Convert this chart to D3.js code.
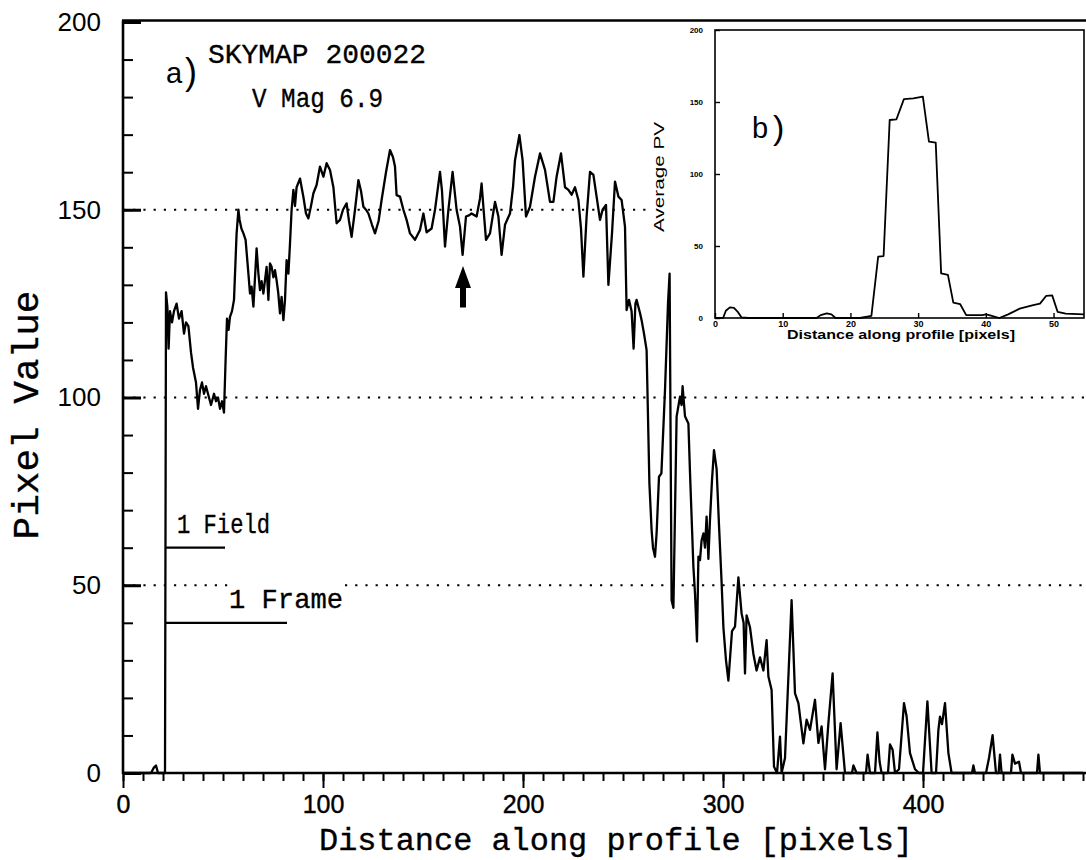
<!DOCTYPE html>
<html><head><meta charset="utf-8">
<script src="https://cdn.jsdelivr.net/npm/d3@7/dist/d3.min.js"></script>
<style>html,body{margin:0;padding:0;background:#fff;} svg{display:block;}</style>
</head><body>
<svg id="chart" width="1086" height="860"></svg>
<script>
// ---------- data ----------
const profileX = [0,14,15.5,16.5,17.5,20,21,21.5,22.2,22.8,23.5,24.5,25.5,26.8,28,29.3,30.5,31.5,32.7,34,35,36.5,37.5,38.5,39.5,40.5,41.5,43,44,45.5,46.5,47.5,48.5,49.5,50.5,51.3,52,52.8,53.5,54.5,55.5,56.8,57.7,58.3,59.2,60.2,61.3,62.7,63.5,64.3,65.2,66.8,67.7,68.5,69.3,70.2,71.8,72.7,73.5,74.3,75.2,76,76.8,77.6,78.5,79.3,80.2,81,81.8,82.7,83.5,84.3,85.2,86,86.8,88.5,90.2,91.5,92.7,94,95.2,96.8,98.5,100.2,101.8,103.5,105.2,106.8,108.5,110,111.8,113,114.3,116,117.7,119,120.2,121.5,122.7,124.5,126,127.8,129.3,131.5,133.5,135,136,136.8,138.5,140.2,141.8,143.5,146,148.5,150.2,151.8,154.3,156,158.5,159.5,161,162.7,164.8,166.8,168.5,169.8,171.5,173,174.3,176.8,178.5,179.3,180.3,181.5,183.5,186,187.7,189.3,191,193.5,195,196,198.2,199.8,201.5,203.5,206,208.5,211,213.5,215.2,216.8,219,221,222.7,224.3,226,227.7,229,230.2,231.8,233.5,235.2,236.8,238.5,239.8,241.5,242.7,244.5,246,247.7,249.3,251,251.8,253,254.3,255.3,256.2,256.8,258.5,259.3,260.5,261.8,263.2,264.3,265,266,266.8,268,269.2,271,272.5,273.3,274.3,275.2,276.8,278.5,279.3,279.8,281,282.7,283.5,285.2,286,287,287.7,288.5,289.3,290.2,291,291.8,292.7,293.5,294.5,295.5,296.8,298,299.2,300.2,301.5,302.7,304.5,306,307.7,309.3,310.3,311,311.8,313.5,315.2,316.8,318.5,320.2,321.8,322.7,324.3,325.5,327,328.5,329.3,331,334.3,336,337.7,340.2,341.8,343.5,346,347.7,349.3,351,352.7,354.8,356.8,358.8,361,364.5,365.2,366.8,371.5,372.3,373.5,376,377.2,378.3,379.3,382.5,383.5,384.8,386,388,390.5,391.8,393.5,396,398,400,402.2,404.3,406.5,407.7,408.5,409.5,411,412.7,414.3,424.5,425.2,426,431.5,433,434.8,436.5,437.8,438.5,439.3,444,444.7,446,448,449,457,457.7,458.5,480];
const profileV = [0,0,1.5,2,0,0,0,128,124,113,123,120,123,125,121,123,117,120,119,112,108,104,97,102,104,101,103,100,98,101,99,100,97,99,96,110,121,118,121.5,123,126,143.7,150,147.3,145,143.7,142,133,127.7,129.5,124.2,139.7,133,128.6,131,127.7,134.8,126,135.7,134.8,132,133.9,131.2,128,122.4,126.8,120.6,126,136.6,133,141,150,155.3,151,156,158.3,153.4,149,147.7,151,154.4,156.6,161.5,158.8,162.4,160.6,156,146.4,147.3,150,151.7,147,142.8,150,157.9,155,150.8,150,149,146,143.7,147,152.6,160,165.9,164,161.5,153.9,153.5,150,147.3,143.7,142,144.6,149,144,145,150,160.1,155,140.2,150,160.1,150,145.5,138,148.2,148.5,149,148.2,153,157,150,142,143.7,152.1,148.2,138,146,149,156,163.2,169.9,163.2,148.2,150.8,158.8,165,160.6,152.1,152.1,158.8,165,156,155.3,154,156,152.6,145,132.2,148.2,160.1,159.3,153.5,147.3,150,151.3,130,143.7,157.5,153.5,152.6,145.5,123.3,126,123,113,125,126,122.5,120.6,117,112.6,77.1,64.7,60,57.6,63.8,78.9,79.8,102,125,133,46,44,94.9,100.2,98,103,95,93.1,80,54.9,47.8,35,57.6,56.7,62,63.8,60,68.3,57,67.5,78,86,81,66,52,38.8,30,24.6,37.8,39,52.1,42.5,40,26.5,42,38.8,31.7,27.3,30.8,27.3,35.4,25.7,22.1,1.7,0,9.7,0,4,46,21.2,18.6,7.9,14.2,11.5,19.5,8,12.4,1,13.3,26.5,1,13.3,0,0,2,0,0,4.9,0,0,10.8,3,0,0,7.6,6.2,0,1,18.6,15.1,5.3,1,0,0,19.1,0,0,11.5,15,13,18.6,5.3,0,0,2,0,0,4,10.1,0,0,4.9,0,0,4.9,2.5,3,0,0,4.9,0,0];

const insetX = [0,1.2,1.6,2.2,2.8,3.4,3.9,5,15,15.6,16.5,17.2,17.8,21.4,22.5,23.1,24.1,24.9,25.8,26.8,27.9,29.3,30.7,31.6,32.6,33.4,34.4,35.2,36.2,37.1,39.5,40,40.5,42,43.3,45,47,48,48.9,49.8,50.6,51.8,54.5];
const insetV = [0,0,5,7.4,7,4,0.5,0,0,2,3.2,2.5,0,0,1,1.5,42.6,43,137.5,138,152,152.5,153.7,122.5,121.8,31,30,10.7,9.7,2,2,2.5,2,0,2.5,6.5,9,10,15.3,15.7,4.3,3,2.5];

const xTickLabels = [0,100,200,300,400];
const yTickLabels = [0,50,100,150,200];
const insetXTicks = [0,10,20,30,40,50];
const insetYTicks = [0,50,100,150,200];
const refLines = [150,100,50];
const markerLabels = ["1 Field","1 Frame"];
const markerValues = [60,40];
const markerFrom = [21,21];
const markerTo = [51,82];
const arrowAt = 170, arrowTip = 135, arrowBase = 124;

// ---------- drawing ----------
const svg = d3.select("#chart");
const SANS = "'Liberation Sans', Arial, sans-serif";
const MONO = "'Liberation Mono', 'Courier New', monospace";

const x = d3.scaleLinear().domain([0,480]).range([123,1083]);
const y = d3.scaleLinear().domain([0,200]).range([773,22]);

function txt(g, s, px, py, fs, fam, len, anchor) {
  const t = g.append("text").attr("x",px).attr("y",py).attr("font-size",fs)
    .attr("font-family",fam).attr("fill","#000").text(s);
  if (anchor) t.attr("text-anchor",anchor);
  if (len) t.attr("textLength",len).attr("lengthAdjust","spacingAndGlyphs");
  return t;
}

// reference dotted lines
const dots = svg.append("g").attr("stroke","#000").attr("stroke-width",2.2)
  .attr("stroke-dasharray","2.2,8").attr("fill","none");
dots.append("line").attr("x1",x(0)).attr("x2",648).attr("y1",y(refLines[0])).attr("y2",y(refLines[0]));
dots.append("line").attr("x1",x(0)).attr("x2",1086).attr("y1",y(refLines[1])).attr("y2",y(refLines[1]));
dots.append("line").attr("x1",x(0)).attr("x2",228).attr("y1",y(refLines[2])).attr("y2",y(refLines[2]));
dots.append("line").attr("x1",345).attr("x2",1086).attr("y1",y(refLines[2])).attr("y2",y(refLines[2]));

// axes ticks
function styleAxis(g){ g.select(".domain").remove(); g.selectAll("line").attr("stroke","#000").attr("stroke-width",2); }
svg.append("g").attr("transform",`translate(0,${y(0)})`)
  .call(d3.axisBottom(x).tickValues(d3.range(0,481,10)).tickSize(8).tickFormat(""))
  .call(styleAxis);
const xMaj = svg.append("g").attr("transform",`translate(0,${y(0)})`)
  .call(d3.axisBottom(x).tickValues(xTickLabels).tickSize(15).tickPadding(7).tickFormat(d3.format("d")))
  .call(styleAxis);
xMaj.selectAll("text").attr("font-size",25).attr("font-family",SANS).attr("fill","#000")
  .attr("stroke","#000").attr("stroke-width",0.4);

svg.append("g").attr("transform",`translate(${x(0)},0)`)
  .call(d3.axisRight(y).tickValues(d3.range(0,201,10)).tickSize(10).tickFormat(""))
  .call(styleAxis);
svg.append("g").attr("transform",`translate(${x(0)},0)`)
  .call(d3.axisRight(y).tickValues(yTickLabels).tickSize(18).tickFormat(""))
  .call(g=>{styleAxis(g); g.selectAll("line").attr("stroke-width",3);});
const yLab = svg.append("g").attr("transform",`translate(${x(0)},0)`)
  .call(d3.axisLeft(y).tickValues(yTickLabels).tickSize(0).tickPadding(22).tickFormat(d3.format("d")))
  .call(styleAxis);
yLab.selectAll("text").attr("font-size",26).attr("font-family",SANS).attr("fill","#000");

// frame
const frame = svg.append("g").attr("stroke","#000").attr("stroke-width",2.6).attr("fill","none");
frame.append("line").attr("x1",x(0)).attr("x2",x(0)).attr("y1",y(200)-1.5).attr("y2",y(0)+1);
frame.append("line").attr("x1",x(0)-1).attr("x2",1086).attr("y1",y(200)-1.5).attr("y2",y(200)-1.5);
frame.append("line").attr("x1",x(0)-1).attr("x2",1086).attr("y1",y(0)).attr("y2",y(0));

// marker lines
markerLabels.forEach((m,i)=>{
  svg.append("line").attr("x1",x(markerFrom[i])).attr("x2",x(markerTo[i]))
    .attr("y1",y(markerValues[i])).attr("y2",y(markerValues[i]))
    .attr("stroke","#000").attr("stroke-width",2.2);
});
const serifG = svg.append("g").attr("stroke","#000").attr("stroke-width",0.35);
txt(serifG, markerLabels[0], 177, 533, 28, MONO, 93);
txt(serifG, markerLabels[1], 229, 608, 28, MONO, 114);

// profile line
const line = d3.line().x(d=>x(d[0])).y(d=>y(d[1]));
svg.append("path").datum(d3.zip(profileX, profileV)).attr("d",line)
  .attr("fill","none").attr("stroke","#000").attr("stroke-width",2.3).attr("stroke-linejoin","round");

// arrow
const ax = x(arrowAt), aTip = y(arrowTip), aBase = y(arrowBase);
svg.append("path").attr("d",`M${ax},${aTip} L${ax+8},${aTip+22} L${ax+3},${aTip+22} L${ax+3},${aBase} L${ax-3},${aBase} L${ax-3},${aTip+22} L${ax-8},${aTip+22} Z`)
  .attr("fill","#000");

// annotations
txt(svg, "a", 166, 83, 29, SANS);
txt(svg, ")", 185, 84, 36, SANS).attr("font-weight","300");
txt(serifG, "SKYMAP 200022", 208, 63, 28, MONO, 218);
txt(serifG, "V Mag 6.9", 252, 107, 28, MONO, 131);

// axis titles
txt(serifG, "Distance along profile [pixels]", 616, 850, 31, MONO, 594, "middle");
txt(serifG, "Pixel Value", 0, 0, 37, MONO, 249, "middle").attr("transform","translate(38,415) rotate(-90)");

// ---------- inset ----------
const ix = d3.scaleLinear().domain([0,54.5]).range([715,1084]);
const iy = d3.scaleLinear().domain([0,200]).range([318,30]);
const ins = svg.append("g");
ins.append("rect").attr("x",ix(0)).attr("y",iy(200)).attr("width",ix(54.5)-ix(0)).attr("height",iy(0)-iy(200))
  .attr("fill","#fff").attr("stroke","#000").attr("stroke-width",1.6);
ins.append("g").attr("transform",`translate(0,${iy(0)})`)
  .call(d3.axisTop(ix).tickValues(insetXTicks).tickSize(5).tickFormat(""))
  .call(g=>{g.select(".domain").remove(); g.selectAll("line").attr("stroke","#000").attr("stroke-width",1.4);});
const ixl = ins.append("g").attr("transform",`translate(0,${iy(0)})`)
  .call(d3.axisBottom(ix).tickValues(insetXTicks).tickSize(0).tickPadding(3).tickFormat(d3.format("d")))
  .call(g=>g.select(".domain").remove());
ixl.selectAll("text").attr("font-size",9).attr("font-weight","bold").attr("font-family",SANS).attr("fill","#000");
ins.append("g").attr("transform",`translate(${ix(0)},0)`)
  .call(d3.axisRight(iy).tickValues(insetYTicks).tickSize(5).tickFormat(""))
  .call(g=>{g.select(".domain").remove(); g.selectAll("line").attr("stroke","#000").attr("stroke-width",1.4);});
const iyl = ins.append("g").attr("transform",`translate(${ix(0)},0)`)
  .call(d3.axisLeft(iy).tickValues(insetYTicks).tickSize(0).tickPadding(12).tickFormat(d3.format("d")))
  .call(g=>g.select(".domain").remove());
iyl.selectAll("text").attr("font-size",8).attr("font-weight","bold").attr("font-family",SANS).attr("fill","#000");

const iline = d3.line().x(d=>ix(d[0])).y(d=>iy(d[1]));
ins.append("path").datum(d3.zip(insetX, insetV)).attr("d",iline)
  .attr("fill","none").attr("stroke","#000").attr("stroke-width",1.8).attr("stroke-linejoin","round");

txt(ins, "b", 752, 138, 29, SANS);
txt(ins, ")", 773, 139, 34, SANS).attr("font-weight","300");
txt(ins, "Distance along profile [pixels]", 901, 339, 12.5, SANS, 228, "middle").attr("font-weight","bold");
txt(ins, "Average PV", 0, 0, 15, SANS, 110, "middle").attr("transform","translate(664,177) rotate(-90)");
</script>
</body></html>
